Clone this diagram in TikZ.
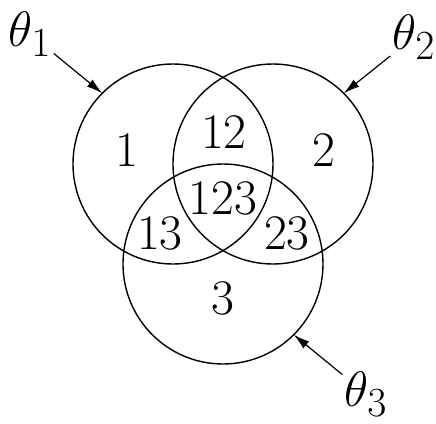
\documentclass[tikz,border=0pt]{standalone}
\usepackage{amsmath,amssymb}
\usetikzlibrary{arrows.meta}
\tikzset{
  setcircle/.style={
    shape = circle,
    draw,
    line width = 0.7pt,
    minimum size = 100pt,
    inner sep = 0pt,
    outer sep = 0pt
  },
  region/.style={
    inner sep = 0pt,
    font=\Huge
  },
  param/.style={
    inner sep = 1pt,
    font=\Huge
  },
  pointer/.style={
    -{Latex[length=8pt,width=4.5pt]},
    line width = 0.6pt
  }
}
\begin{document}
\begin{tikzpicture}[x=0.5pt,y=-0.5pt]
            \useasboundingbox (0,0) rectangle (436,424);
            \node[setcircle] (c1) at (173,164) {};
            \node[setcircle] (c2) at (273,164) {};
            \node[setcircle] (c3) at (223,264) {};
            \node[region] (r1) at (127,150) {$1$};
            \node[region] (r12) at (224,132) {$12$};
            \node[region] (r2) at (324,150) {$2$};
            \node[region] (r123) at (223,198) {$123$};
            \node[region] (r13) at (160,233) {$13$};
            \node[region] (r23) at (287,233) {$23$};
            \node[region] (r3) at (223,298) {$3$};
            \node[param] (t1) at (30,34) {$\theta_1$};
            \node[param] (t2) at (414,37) {$\theta_2$};
            \node[param] (t3) at (366,394) {$\theta_3$};
            \draw[pointer] (t1)--(c1.135);
            \draw[pointer] (t2)--(c2.45);
            \draw[pointer] (t3)--(c3.-45);
        \end{tikzpicture}
\end{document}
